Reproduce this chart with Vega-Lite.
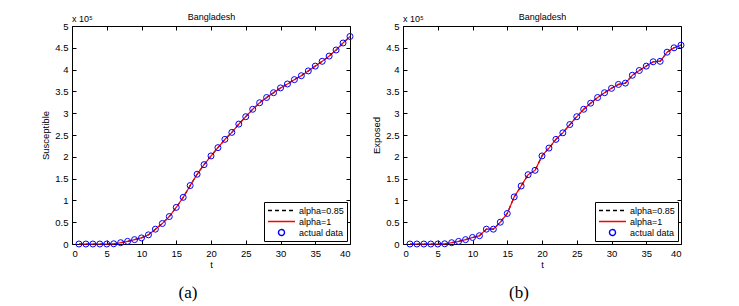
{
  "$schema": "https://vega.github.io/schema/vega-lite/v6.json",
  "autosize": {"type": "pad"},
  "padding": {"left": 40, "top": 12, "right": 0, "bottom": 0},
  "background": "white",
  "config": {
    "view": {"stroke": "black", "strokeWidth": 1},
    "font": "Liberation Sans",
    "axis": {
      "grid": false, "domain": false, "tickColor": "black", "tickSize": -4, "tickWidth": 1,
      "labelFont": "Liberation Sans", "labelFontSize": 9.5, "labelColor": "black", "labelPadding": 8,
      "titleFont": "Liberation Sans", "titleFontSize": 9.5, "titleFontWeight": "normal", "titleColor": "black"
    },
    "legend": {
      "orient": "bottom-right", "offset": 3, "title": null, "strokeColor": "black", "fillColor": "white",
      "padding": 3, "labelFont": "Liberation Sans", "labelFontSize": 9, "labelColor": "black",
      "symbolStrokeWidth": 1.4, "symbolOpacity": 1, "rowPadding": 0, "clipHeight": 11, "labelOffset": 3, "cornerRadius": 0
    }
  },
  "datasets": {
    "S": [
      {"t":1,"a085":0,"a1":0,"data":0},
      {"t":2,"a085":0,"a1":0,"data":0},
      {"t":3,"a085":0,"a1":0,"data":0},
      {"t":4,"a085":0,"a1":0,"data":0},
      {"t":5,"a085":0,"a1":0,"data":0},
      {"t":6,"a085":0.005,"a1":0.005,"data":0.005},
      {"t":7,"a085":0.03,"a1":0.03,"data":0.03},
      {"t":8,"a085":0.06,"a1":0.06,"data":0.06},
      {"t":9,"a085":0.1,"a1":0.1,"data":0.1},
      {"t":10,"a085":0.14,"a1":0.14,"data":0.14},
      {"t":11,"a085":0.21,"a1":0.21,"data":0.21},
      {"t":12,"a085":0.34,"a1":0.34,"data":0.34},
      {"t":13,"a085":0.47,"a1":0.47,"data":0.47},
      {"t":14,"a085":0.63,"a1":0.63,"data":0.63},
      {"t":15,"a085":0.84,"a1":0.84,"data":0.84},
      {"t":16,"a085":1.07,"a1":1.07,"data":1.07},
      {"t":17,"a085":1.34,"a1":1.34,"data":1.34},
      {"t":18,"a085":1.6,"a1":1.6,"data":1.6},
      {"t":19,"a085":1.82,"a1":1.82,"data":1.82},
      {"t":20,"a085":2.02,"a1":2.02,"data":2.02},
      {"t":21,"a085":2.21,"a1":2.21,"data":2.21},
      {"t":22,"a085":2.4,"a1":2.4,"data":2.4},
      {"t":23,"a085":2.56,"a1":2.56,"data":2.56},
      {"t":24,"a085":2.75,"a1":2.75,"data":2.75},
      {"t":25,"a085":2.92,"a1":2.92,"data":2.92},
      {"t":26,"a085":3.09,"a1":3.09,"data":3.09},
      {"t":27,"a085":3.24,"a1":3.24,"data":3.24},
      {"t":28,"a085":3.36,"a1":3.36,"data":3.36},
      {"t":29,"a085":3.47,"a1":3.47,"data":3.47},
      {"t":30,"a085":3.58,"a1":3.58,"data":3.58},
      {"t":31,"a085":3.67,"a1":3.67,"data":3.67},
      {"t":32,"a085":3.77,"a1":3.77,"data":3.77},
      {"t":33,"a085":3.86,"a1":3.86,"data":3.86},
      {"t":34,"a085":3.97,"a1":3.97,"data":3.97},
      {"t":35,"a085":4.08,"a1":4.08,"data":4.08},
      {"t":36,"a085":4.19,"a1":4.19,"data":4.19},
      {"t":37,"a085":4.31,"a1":4.31,"data":4.31},
      {"t":38,"a085":4.45,"a1":4.45,"data":4.45},
      {"t":39,"a085":4.61,"a1":4.61,"data":4.61},
      {"t":40,"a085":4.76,"a1":4.76,"data":4.76}
    ],
    "E": [
      {"t":1,"a085":0,"a1":0,"data":0},
      {"t":2,"a085":0,"a1":0,"data":0},
      {"t":3,"a085":0,"a1":0,"data":0},
      {"t":4,"a085":0,"a1":0,"data":0},
      {"t":5,"a085":0,"a1":0,"data":0},
      {"t":6,"a085":0.005,"a1":0.005,"data":0.005},
      {"t":7,"a085":0.03,"a1":0.03,"data":0.03},
      {"t":8,"a085":0.06,"a1":0.06,"data":0.06},
      {"t":9,"a085":0.1,"a1":0.1,"data":0.1},
      {"t":10,"a085":0.15,"a1":0.15,"data":0.15},
      {"t":11,"a085":0.19,"a1":0.19,"data":0.19},
      {"t":12,"a085":0.34,"a1":0.34,"data":0.34},
      {"t":13,"a085":0.34,"a1":0.34,"data":0.34},
      {"t":14,"a085":0.5,"a1":0.5,"data":0.5},
      {"t":15,"a085":0.7,"a1":0.7,"data":0.7},
      {"t":16,"a085":1.08,"a1":1.08,"data":1.08},
      {"t":17,"a085":1.33,"a1":1.33,"data":1.33},
      {"t":18,"a085":1.59,"a1":1.59,"data":1.59},
      {"t":19,"a085":1.69,"a1":1.69,"data":1.69},
      {"t":20,"a085":2.02,"a1":2.02,"data":2.02},
      {"t":21,"a085":2.2,"a1":2.2,"data":2.2},
      {"t":22,"a085":2.4,"a1":2.4,"data":2.4},
      {"t":23,"a085":2.55,"a1":2.55,"data":2.55},
      {"t":24,"a085":2.74,"a1":2.74,"data":2.74},
      {"t":25,"a085":2.92,"a1":2.92,"data":2.92},
      {"t":26,"a085":3.09,"a1":3.09,"data":3.09},
      {"t":27,"a085":3.23,"a1":3.23,"data":3.23},
      {"t":28,"a085":3.36,"a1":3.36,"data":3.36},
      {"t":29,"a085":3.47,"a1":3.47,"data":3.47},
      {"t":30,"a085":3.57,"a1":3.57,"data":3.57},
      {"t":31,"a085":3.66,"a1":3.66,"data":3.66},
      {"t":32,"a085":3.69,"a1":3.69,"data":3.69},
      {"t":33,"a085":3.87,"a1":3.87,"data":3.87},
      {"t":34,"a085":3.98,"a1":3.98,"data":3.98},
      {"t":35,"a085":4.08,"a1":4.08,"data":4.08},
      {"t":36,"a085":4.18,"a1":4.18,"data":4.18},
      {"t":37,"a085":4.19,"a1":4.19,"data":4.19},
      {"t":38,"a085":4.4,"a1":4.4,"data":4.4},
      {"t":39,"a085":4.5,"a1":4.5,"data":4.5},
      {"t":40,"a085":4.56,"a1":4.56,"data":4.56}
    ]
  },
  "spacing": 15,
  "resolve": {"legend": {"color": "independent", "strokeDash": "independent", "shape": "independent", "size": "independent"},
              "scale": {"color": "independent", "strokeDash": "independent", "shape": "independent", "size": "independent"}},
  "hconcat": [
    {
      "width": 278, "height": 218,
      "data": {"name": "S"},
      "title": {"text": "(a)", "orient": "bottom", "font": "Liberation Serif", "fontSize": 17, "fontWeight": "normal", "color": "black", "offset": 16, "dx": -23},
      "layer": [
        {
          "transform": [{"fold": ["a085", "a1"], "as": ["series", "v"]}],
          "mark": {"type": "line", "strokeWidth": 1.2},
          "encoding": {
            "x": {"field": "t", "type": "quantitative", "scale": {"domain": [0, 40], "nice": false},
                  "axis": {"values": [0,5,10,15,20,25,30,35,40], "title": "t", "titlePadding": 2}},
            "y": {"field": "v", "type": "quantitative", "scale": {"domain": [0, 5], "nice": false},
                  "axis": {"values": [0,0.5,1,1.5,2,2.5,3,3.5,4,4.5,5], "format": "~g", "title": "Susceptible", "titlePadding": 4}},
            "color": {"field": "series", "type": "nominal", "scale": {"domain": ["a085", "a1", "data"], "range": ["black", "#ff0000", "#0000ff"]},
                      "legend": {"labelExpr": "datum.label == 'a085' ? 'alpha=0.85' : datum.label == 'a1' ? 'alpha=1' : 'actual data'"}},
            "strokeDash": {"field": "series", "type": "nominal", "scale": {"domain": ["a085", "a1", "data"], "range": [[4, 3], [1, 0], [1, 0]]},
                      "legend": {"labelExpr": "datum.label == 'a085' ? 'alpha=0.85' : datum.label == 'a1' ? 'alpha=1' : 'actual data'"}}
          }
        },
        {
          "transform": [{"fold": ["data"], "as": ["series", "v"]}],
          "mark": {"type": "point", "filled": false, "strokeWidth": 1, "opacity": 1},
          "encoding": {
            "x": {"field": "t", "type": "quantitative", "axis": null},
            "y": {"field": "v", "type": "quantitative", "axis": null},
            "color": {"field": "series", "type": "nominal"},
            "shape": {"field": "series", "type": "nominal", "scale": {"domain": ["a085", "a1", "data"], "range": ["stroke", "stroke", "circle"]},
                      "legend": {"labelExpr": "datum.label == 'a085' ? 'alpha=0.85' : datum.label == 'a1' ? 'alpha=1' : 'actual data'"}},
            "size": {"field": "series", "type": "nominal", "scale": {"type": "ordinal", "domain": ["a085", "a1", "data"], "range": [729, 729, 36]},
                      "legend": {"labelExpr": "datum.label == 'a085' ? 'alpha=0.85' : datum.label == 'a1' ? 'alpha=1' : 'actual data'"}}
          }
        },
        {
          "data": {"values": [{"t": 0, "v": 5, "label": "x 10⁵"}]},
          "mark": {"type": "text", "align": "left", "baseline": "bottom", "dy": -2, "fontSize": 9, "color": "black", "font": "Liberation Sans"},
          "encoding": {
            "x": {"field": "t", "type": "quantitative",
                  "axis": {"orient": "top", "labels": false, "values": [0,5,10,15,20,25,30,35,40], "title": "Bangladesh", "titlePadding": 4, "titleFontSize": 9}},
            "y": {"field": "v", "type": "quantitative",
                  "axis": {"orient": "right", "labels": false, "values": [0,0.5,1,1.5,2,2.5,3,3.5,4,4.5,5], "title": null}},
            "text": {"field": "label"}
          }
        }
      ],
      "resolve": {"axis": {"x": "independent", "y": "independent"}}
    },
    {
      "width": 278, "height": 218,
      "data": {"name": "E"},
      "title": {"text": "(b)", "orient": "bottom", "font": "Liberation Serif", "fontSize": 17, "fontWeight": "normal", "color": "black", "offset": 16, "dx": -23},
      "layer": [
        {
          "transform": [{"fold": ["a085", "a1"], "as": ["series", "v"]}],
          "mark": {"type": "line", "strokeWidth": 1.2},
          "encoding": {
            "x": {"field": "t", "type": "quantitative", "scale": {"domain": [0, 40], "nice": false},
                  "axis": {"values": [0,5,10,15,20,25,30,35,40], "title": "t", "titlePadding": 2}},
            "y": {"field": "v", "type": "quantitative", "scale": {"domain": [0, 5], "nice": false},
                  "axis": {"values": [0,0.5,1,1.5,2,2.5,3,3.5,4,4.5,5], "format": "~g", "title": "Exposed", "titlePadding": 4}},
            "color": {"field": "series", "type": "nominal", "scale": {"domain": ["a085", "a1", "data"], "range": ["black", "#ff0000", "#0000ff"]},
                      "legend": {"labelExpr": "datum.label == 'a085' ? 'alpha=0.85' : datum.label == 'a1' ? 'alpha=1' : 'actual data'"}},
            "strokeDash": {"field": "series", "type": "nominal", "scale": {"domain": ["a085", "a1", "data"], "range": [[4, 3], [1, 0], [1, 0]]},
                      "legend": {"labelExpr": "datum.label == 'a085' ? 'alpha=0.85' : datum.label == 'a1' ? 'alpha=1' : 'actual data'"}}
          }
        },
        {
          "transform": [{"fold": ["data"], "as": ["series", "v"]}],
          "mark": {"type": "point", "filled": false, "strokeWidth": 1, "opacity": 1},
          "encoding": {
            "x": {"field": "t", "type": "quantitative", "axis": null},
            "y": {"field": "v", "type": "quantitative", "axis": null},
            "color": {"field": "series", "type": "nominal"},
            "shape": {"field": "series", "type": "nominal", "scale": {"domain": ["a085", "a1", "data"], "range": ["stroke", "stroke", "circle"]},
                      "legend": {"labelExpr": "datum.label == 'a085' ? 'alpha=0.85' : datum.label == 'a1' ? 'alpha=1' : 'actual data'"}},
            "size": {"field": "series", "type": "nominal", "scale": {"type": "ordinal", "domain": ["a085", "a1", "data"], "range": [729, 729, 36]},
                      "legend": {"labelExpr": "datum.label == 'a085' ? 'alpha=0.85' : datum.label == 'a1' ? 'alpha=1' : 'actual data'"}}
          }
        },
        {
          "data": {"values": [{"t": 0, "v": 5, "label": "x 10⁵"}]},
          "mark": {"type": "text", "align": "left", "baseline": "bottom", "dy": -2, "fontSize": 9, "color": "black", "font": "Liberation Sans"},
          "encoding": {
            "x": {"field": "t", "type": "quantitative",
                  "axis": {"orient": "top", "labels": false, "values": [0,5,10,15,20,25,30,35,40], "title": "Bangladesh", "titlePadding": 4, "titleFontSize": 9}},
            "y": {"field": "v", "type": "quantitative",
                  "axis": {"orient": "right", "labels": false, "values": [0,0.5,1,1.5,2,2.5,3,3.5,4,4.5,5], "title": null}},
            "text": {"field": "label"}
          }
        }
      ],
      "resolve": {"axis": {"x": "independent", "y": "independent"}}
    }
  ]
}
